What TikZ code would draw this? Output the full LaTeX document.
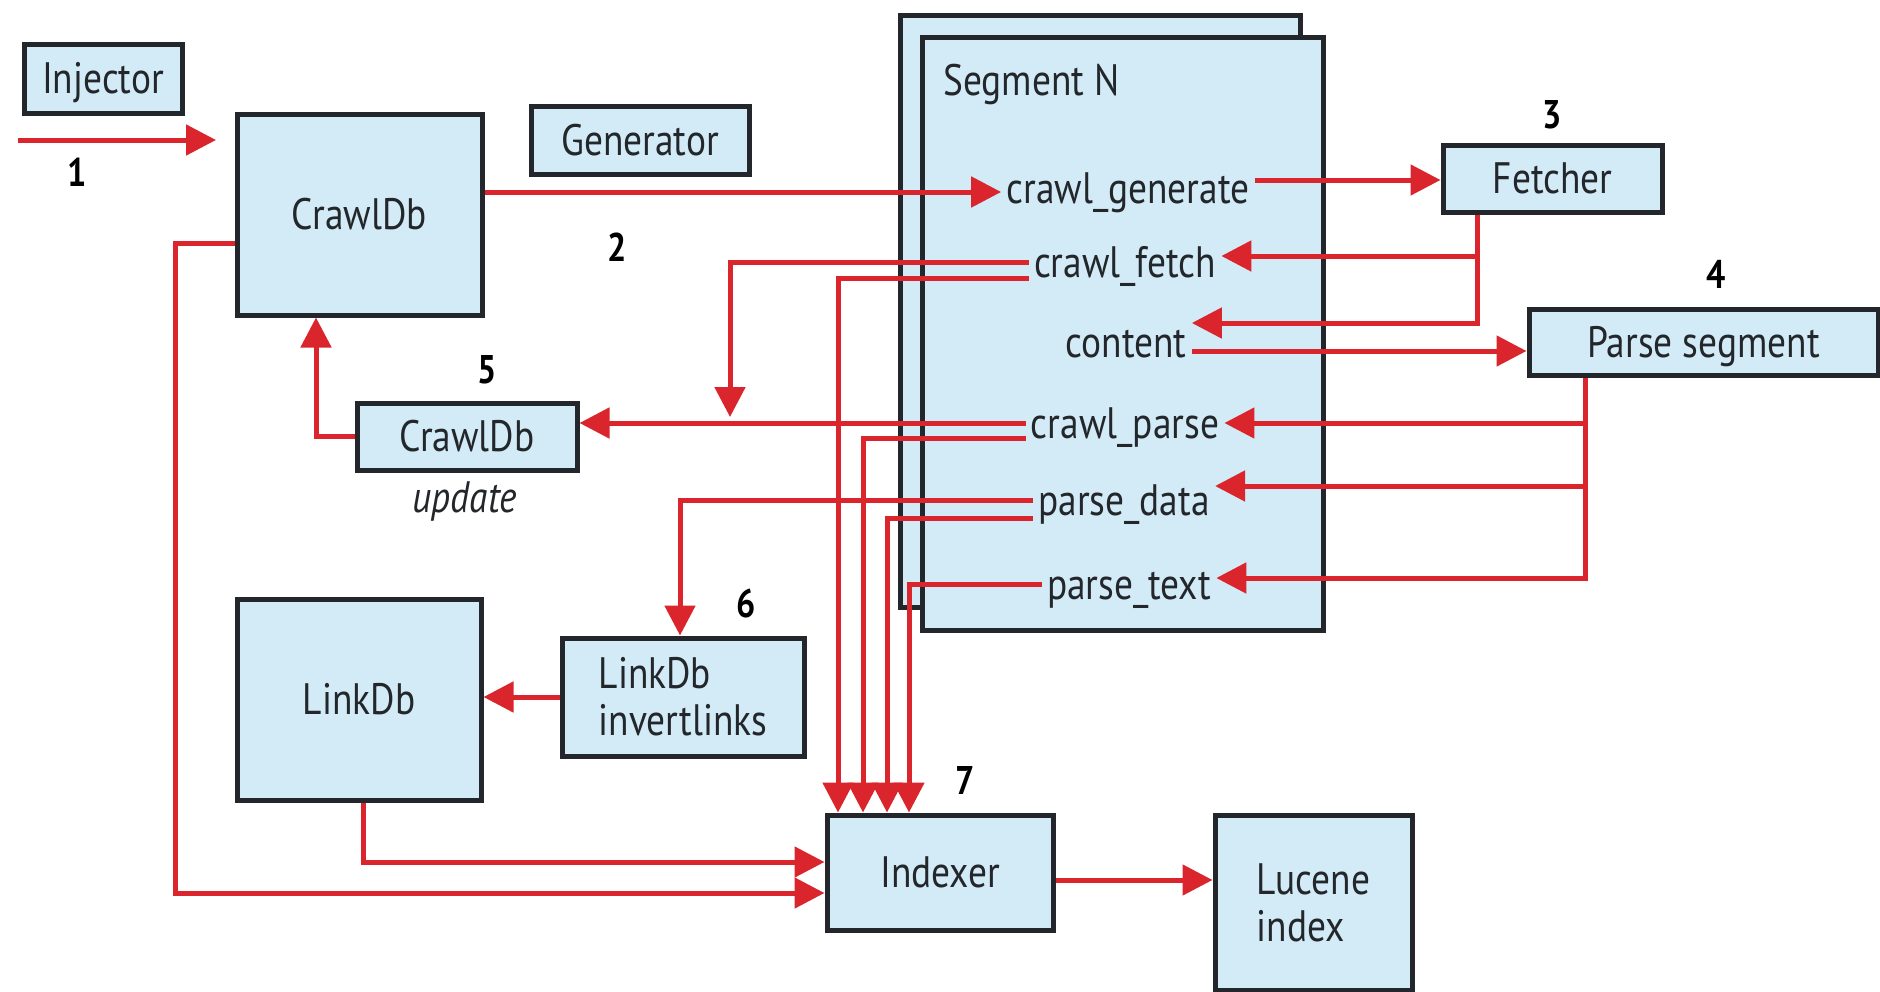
\documentclass[tikz,border=0pt]{standalone}
\usepackage{fontspec}
\setmainfont{PT Sans}[FakeStretch=0.85]
\usetikzlibrary{arrows.meta,calc}
\definecolor{boxfill}{RGB}{210,235,247}
\definecolor{edge}{RGB}{35,38,42}
\definecolor{flow}{RGB}{218,37,45}

\begin{document}
\begin{tikzpicture}[x=0.5pt,y=-0.5pt,
  box/.style={draw=edge,fill=boxfill,line width=2.5pt,inner sep=0pt,
    font=\fontsize{22}{23.5}\selectfont,text=edge},
  capline/.style={text height=15.4pt,text depth=0pt},
  lbl/.style={inner sep=2.5pt,font=\fontsize{22}{23.5}\selectfont,
    text height=15.4pt,text depth=0pt,text=edge},
  num/.style={inner sep=0pt,font=\fontsize{20}{22}\selectfont\bfseries,text=black},
  arr/.style={draw=flow,line width=2.5pt,-{Triangle[length=15pt,width=15pt]}}]

\useasboundingbox[fill=white] (0,0) rectangle (1880,991);

% ---- boxes ----
\node[box,capline,minimum width=79pt,minimum height=34.5pt] (inj) at (103,78.5) {Injector};
\node[box,capline,minimum width=122.5pt,minimum height=100.5pt] (cdb) at (359.5,214.5) {CrawlDb};
\node[box,capline,minimum width=109pt,minimum height=34pt] (gnr) at (640,140) {Generator};
\node[box,minimum width=200pt,minimum height=296pt] (segb) at (1100,311) {};
\node[box,minimum width=200.5pt,minimum height=296.5pt] (segf) at (1122.5,333.5) {};
\node[lbl,anchor=west] (segt) at (938,80) {Segment N};
\node[box,capline,minimum width=109.5pt,minimum height=33.5pt] (fet) at (1552.5,178.5) {Fetcher};
\node[box,capline,minimum width=174.5pt,minimum height=33pt] (psg) at (1703.5,342) {Parse segment};
\node[box,capline,minimum width=110pt,minimum height=33.5pt] (upd) at (467,436.5) {CrawlDb};
\node[lbl,font=\fontsize{22}{23.5}\selectfont\itshape] (updt) at (465,497) {update};
\node[box,capline,minimum width=122pt,minimum height=100.5pt] (ldb) at (359,699.5) {LinkDb};
\node[box,align=left,minimum width=121pt,minimum height=59pt] (inv) at (683,697) {LinkDb\\invertlinks};
\node[box,capline,minimum width=113pt,minimum height=57.5pt] (idx) at (940,872.5) {Indexer};
\node[box,align=left,minimum width=98.5pt,minimum height=87.5pt] (luc) at (1313.5,902.5) {Lucene\\index};

% ---- segment contents ----
\node[lbl] (cgen) at (1128,188) {crawl\_generate};
\node[lbl] (cfetch) at (1125,262) {crawl\_fetch};
\node[lbl] (cont) at (1126,342) {content};
\node[lbl] (cparse) at (1125,423) {crawl\_parse};
\node[lbl] (pdata) at (1124,500) {parse\_data};
\node[lbl] (ptext) at (1129,584) {parse\_text};

% ---- step numbers ----
\node[num] (n1) at (77,172) {1};
\node[num] (n2) at (617,247) {2};
\node[num] (n3) at (1552,115) {3};
\node[num] (n4) at (1716,274) {4};
\node[num] (n5) at (487,370) {5};
\node[num] (n6) at (746,603) {6};
\node[num] (n7) at (965,780) {7};

% ---- connectors ----
\coordinate (s1) at (18,140);
\coordinate (e1) at (216,140);
\draw[arr] (s1) -- (e1);

\draw[arr] ([yshift=11.25pt]cdb.east) coordinate (d1) -- (d1 -| cgen.west);
\draw[arr] ([yshift=4pt]cgen.east) coordinate (g1) -- (g1 -| fet.west);

\draw[arr] ([xshift=-37.75pt]fet.south) |- ([yshift=3pt]cfetch.east);
\draw[arr] ([xshift=-37.75pt]fet.south) |- ([yshift=9.5pt]cont.east);
\draw[arr] ([yshift=-4.5pt]cont.east) coordinate (c1) -- (c1 -| psg.west);

\draw[arr] ([xshift=-59pt]psg.south) |- (cparse.east);
\draw[arr] ([xshift=-59pt]psg.south) |- ([yshift=7pt]pdata.east);
\draw[arr] ([xshift=-59pt]psg.south) |- ([yshift=3pt]ptext.east);

\coordinate (drop) at (730,417);
\draw[arr] (cfetch.west) -| (drop);
\draw[arr] (cparse.west) -- (cparse.west -| upd.east);
\draw[arr] (upd.west) -| ([xshift=-21.75pt]cdb.south);

\draw[arr] (pdata.west) -| ([xshift=-1.5pt]inv.north);
\draw[arr] (inv.west) -- (inv.west -| ldb.east);

\draw[arr] ([yshift=-8pt]cfetch.west) -| ([xshift=-51pt]idx.north);
\draw[arr] ([yshift=-7.5pt]cparse.west) -| ([xshift=-38.5pt]idx.north);
\draw[arr] ([yshift=-9pt]pdata.west) -| ([xshift=-26.5pt]idx.north);
\draw[arr] (ptext.west) -| ([xshift=-15.5pt]idx.north);

\draw[arr] ([xshift=2pt]ldb.south) |- ([yshift=5.25pt]idx.west);
\draw[arr] ([yshift=-14.25pt]cdb.west) -- ++(-29.5pt,0pt) |- ([yshift=-10.25pt]idx.west);

\draw[arr] ([yshift=-3.75pt]idx.east) coordinate (x1) -- (x1 -| luc.west);
\end{tikzpicture}
\end{document}
